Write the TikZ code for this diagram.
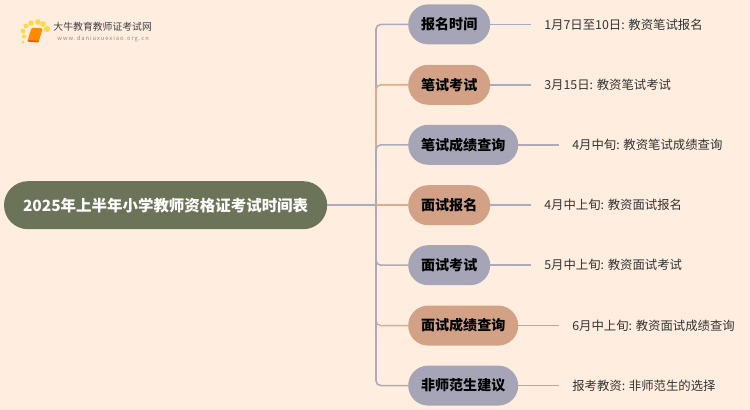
\documentclass[tikz,border=0pt]{standalone}
\usepackage{fontspec}
\setmainfont{Noto Sans CJK SC}
\usepackage{xcolor}
\usetikzlibrary{positioning}
\definecolor{bgcream}{HTML}{FFEEE0}
\definecolor{rootgreen}{HTML}{6B7358}
\definecolor{graypill}{HTML}{A5A5B7}
\definecolor{tanpill}{HTML}{D3A185}
\definecolor{grayline}{HTML}{ABABBD}
\definecolor{tanline}{HTML}{DDAC8F}
\tikzstyle{rootpill} = [rounded corners=0.6cm,fill=rootgreen,text=white,minimum width=8.08cm,minimum height=1.2cm,inner sep=0pt,font=\fontsize{11pt}{14pt}\selectfont\bfseries]
\tikzstyle{graybox} = [rounded corners=0.5cm,fill=graypill,text=black,minimum height=1cm,inner sep=0pt,font=\fontsize{10pt}{12pt}\selectfont\bfseries]
\tikzstyle{tanbox} = [graybox,fill=tanpill]
\tikzstyle{shortbox} = [minimum width=2.05cm]
\tikzstyle{longbox} = [minimum width=2.75cm]
\tikzstyle{leaf} = [anchor=west,inner xsep=0.32cm,inner ysep=0pt,text=black!80,font=\fontsize{8.8pt}{11pt}\selectfont]
\tikzstyle{link} = [line width=1.1pt,rounded corners=0.12cm]
\tikzstyle{spark} = [fill=yellow!70!orange,draw=none,opacity=0.7]

\begin{document}
\begin{tikzpicture}
% Background
\fill[bgcream] (0,0) rectangle (18.75,10.25);
\useasboundingbox (0,0) rectangle (18.75,10.25);

% Logo
\fill[spark] (0.575,9.2) circle (0.04);
\fill[spark] (0.6,9.34) circle (0.05);
\fill[spark] (0.575,9.475) circle (0.06);
\fill[spark] (0.65,9.6) circle (0.06);
\fill[spark] (0.775,9.675) circle (0.07);
\fill[spark] (0.95,9.7) circle (0.07);
\fill[spark] (1.075,9.65) circle (0.07);
\fill[spark] (1.175,9.525) circle (0.08);
\fill[orange!90!yellow,rounded corners=1pt] (0.79,9.56) -- (1.07,9.54) -- (0.96,9.19) -- (0.68,9.21) -- cycle;
\fill[orange!70!red,rounded corners=0.5pt] (0.70,9.25) -- (0.98,9.23) -- (0.96,9.19) -- (0.68,9.21) -- cycle;
\node[anchor=west,inner sep=0pt,text=black!75,font=\fontsize{7pt}{8pt}\selectfont] (logotext) at (1.33,9.57) {大牛教育教师证考试网};
\node[anchor=west,inner sep=0pt,text=black!45,font=\fontsize{4.1pt}{6pt}\selectfont] (logourl) at (1.43,9.27) {w\,w\,w\,.\,d\,a\,n\,i\,u\,x\,u\,e\,x\,i\,a\,o\,.\,o\,r\,g\,.\,c\,n};

% Root
\node[rootpill] (root) at (4.14,5.12) {2025年上半年小学教师资格证考试时间表};
\coordinate (trunk) at (9.4,5.12);

% Branches
\node[graybox,shortbox] (signup) at (11.23,9.64) {报名时间};
\node[tanbox,shortbox] (written) at (11.23,8.13) {笔试考试};
\node[graybox,longbox] (writtenscore) at (11.58,6.63) {笔试成绩查询};
\node[tanbox,shortbox] (interviewsignup) at (11.23,5.12) {面试报名};
\node[graybox,shortbox] (interview) at (11.23,3.62) {面试考试};
\node[tanbox,longbox] (interviewscore) at (11.58,2.11) {面试成绩查询};
\node[graybox,longbox] (advice) at (11.58,0.61) {非师范生建议};

% Leaves
\node[leaf,right=1.02cm of signup] (signupinfo) {1月7日至10日: 教资笔试报名};
\node[leaf,right=1.02cm of written] (writteninfo) {3月15日: 教资笔试考试};
\node[leaf,right=1.02cm of writtenscore] (writtenscoreinfo) {4月中旬: 教资笔试成绩查询};
\node[leaf,right=1.02cm of interviewsignup] (interviewsignupinfo) {4月中上旬: 教资面试报名};
\node[leaf,right=1.02cm of interview] (interviewinfo) {5月中上旬: 教资面试考试};
\node[leaf,right=1.02cm of interviewscore] (interviewscoreinfo) {6月中上旬: 教资面试成绩查询};
\node[leaf,right=1.02cm of advice] (adviceinfo) {报考教资: 非师范生的选择};

% Root to branches
\draw[link,grayline] (trunk) |- (signup);
\draw[link,tanline] (trunk) |- (written);
\draw[link,grayline] (trunk) |- (writtenscore);
\draw[link,tanline] (trunk) -- (interviewsignup);
\draw[link,grayline] (trunk) |- (interview);
\draw[link,tanline] (trunk) |- (interviewscore);
\draw[link,grayline] (trunk) |- (advice);
\draw[link,grayline] (root) -- (trunk);

% Branches to leaves
\draw[link,grayline] (signup) -- (signupinfo);
\draw[link,grayline] (written) -- (writteninfo);
\draw[link,grayline] (writtenscore) -- (writtenscoreinfo);
\draw[link,grayline] (interviewsignup) -- (interviewsignupinfo);
\draw[link,grayline] (interview) -- (interviewinfo);
\draw[link,grayline] (interviewscore) -- (interviewscoreinfo);
\draw[link,grayline] (advice) -- (adviceinfo);
\end{tikzpicture}
\end{document}
